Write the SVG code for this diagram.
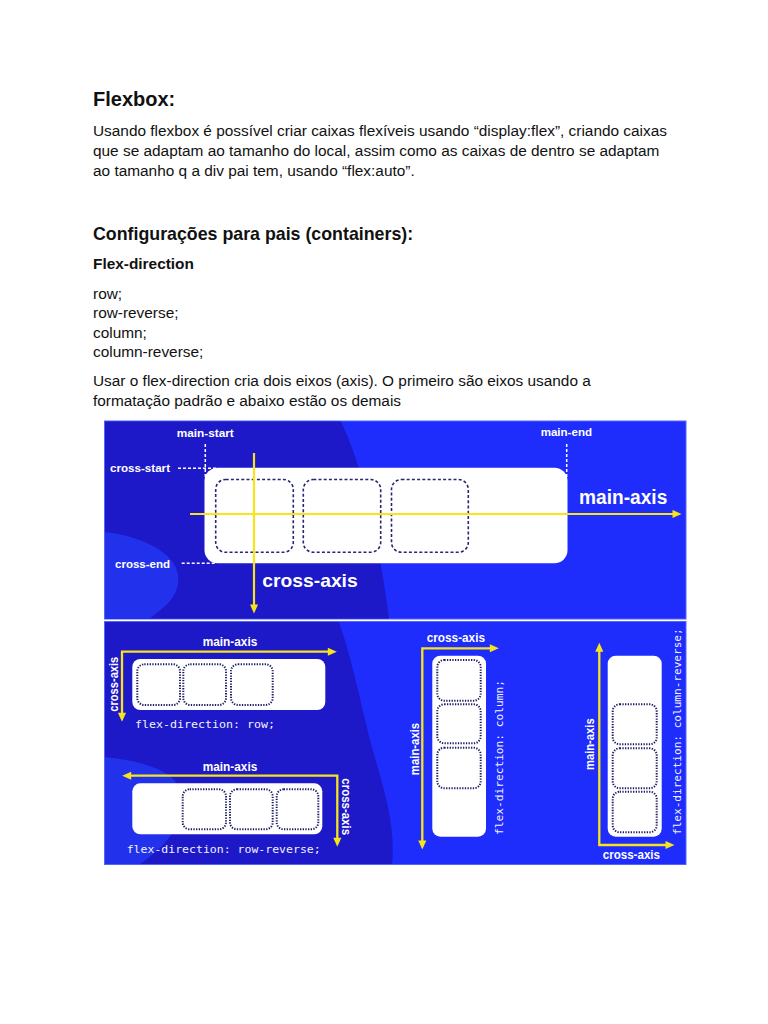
<svg xmlns="http://www.w3.org/2000/svg" width="768" height="1024" viewBox="0 0 768 1024">
<defs>
<style>
.body{font-family:"Liberation Sans",Arial,sans-serif;font-size:15.4px;fill:#111}
.h1{font-family:"Liberation Sans",Arial,sans-serif;font-size:20px;font-weight:bold;fill:#111}
.h2{font-family:"Liberation Sans",Arial,sans-serif;font-size:17.8px;font-weight:bold;fill:#111}
.h3{font-family:"Liberation Sans",Arial,sans-serif;font-size:15.4px;font-weight:bold;fill:#111}
.lbl{font-family:"Liberation Sans",Arial,sans-serif;font-weight:bold;fill:#fff}
.mono{font-family:"DejaVu Sans Mono","Liberation Mono",monospace;font-size:11.3px;fill:#f2f2ff}
.ax{stroke:#f7e41c;stroke-width:2.2;fill:none;marker-end:url(#ah)}
.ax2{stroke:#f7e41c;stroke-width:2.3;fill:none;marker-start:url(#ah);marker-end:url(#ah)}
.wdot{stroke:#fff;stroke-width:1.5;stroke-dasharray:3 2;fill:none}
.box{fill:#fff}
.dbox{fill:none;stroke:#262673;stroke-width:1.6;stroke-dasharray:3 2.2}
.pbox{fill:none;stroke:#1c1c66;stroke-width:2;stroke-dasharray:1.3 1.37}
</style>
<marker id="ah" viewBox="0 0 10 10" refX="5" refY="5" markerWidth="10" markerHeight="9" markerUnits="userSpaceOnUse" orient="auto-start-reverse">
<path d="M0,0.5 L10,5 L0,9.5 z" fill="#f7e41c"/>
</marker>
</defs>
<rect width="768" height="1024" fill="#fff"/>

<g id="text">
<text class="h1" x="93" y="106">Flexbox:</text>
<text class="body" x="93" y="136">Usando flexbox é possível criar caixas flexíveis usando “display:flex”, criando caixas</text>
<text class="body" x="93" y="156">que se adaptam ao tamanho do local, assim como as caixas de dentro se adaptam</text>
<text class="body" x="93" y="176">ao tamanho q a div pai tem, usando “flex:auto”.</text>
<text class="h2" x="93" y="240">Configurações para pais (containers):</text>
<text class="h3" x="93" y="269">Flex-direction</text>
<text class="body" x="93" y="299">row;</text>
<text class="body" x="93" y="318.3">row-reverse;</text>
<text class="body" x="93" y="337.6">column;</text>
<text class="body" x="93" y="356.9">column-reverse;</text>
<text class="body" x="93" y="386">Usar o flex-direction cria dois eixos (axis). O primeiro são eixos usando a</text>
<text class="body" x="93" y="405.5">formatação padrão e abaixo estão os demais</text>
</g>

<g id="top-image">
<rect x="104.5" y="421" width="581.5" height="198" fill="#1e2cfc" stroke="#5566ff" stroke-width="1"/>
<path d="M105,421.5 H341 C352,445 360,470 368,500 C376,535 384,580 389,618.5 H105 Z" fill="#1d18c8"/>
<path d="M105,532 C135,535 175,550 178,575 C181,598 160,610 150,618.5 H105 Z" fill="#2232ec"/>
</g>

<g id="top-guides">
<line class="wdot" x1="205.3" y1="444" x2="205.3" y2="477"/>
<line class="wdot" x1="178" y1="468.3" x2="217" y2="468.3"/>
<line class="wdot" x1="181.7" y1="563.3" x2="215" y2="563.3"/>
<line class="wdot" x1="566.7" y1="444" x2="566.7" y2="477"/>
</g>

<g id="top-container">
<rect class="box" x="204.5" y="467.7" width="363" height="95.6" rx="13"/>
<rect class="dbox" x="215.7" y="479.5" width="77.6" height="72.8" rx="10"/>
<rect class="dbox" x="303.3" y="479.5" width="77.4" height="72.8" rx="10"/>
<rect class="dbox" x="391.5" y="479.5" width="76.8" height="72.8" rx="10"/>
</g>

<g id="top-labels">
<text class="lbl" x="205.3" y="436.5" font-size="11.5" text-anchor="middle" textLength="57" lengthAdjust="spacingAndGlyphs">main-start</text>
<text class="lbl" x="110" y="472" font-size="11" textLength="60" lengthAdjust="spacingAndGlyphs">cross-start</text>
<text class="lbl" x="115" y="567.5" font-size="11" textLength="55" lengthAdjust="spacingAndGlyphs">cross-end</text>
<text class="lbl" x="540.7" y="436" font-size="11.5" textLength="51.3" lengthAdjust="spacingAndGlyphs">main-end</text>
<text class="lbl" x="579" y="504.3" font-size="19.5" textLength="88.3" lengthAdjust="spacingAndGlyphs">main-axis</text>
<text class="lbl" x="262.3" y="586.7" font-size="19" textLength="95.4" lengthAdjust="spacingAndGlyphs">cross-axis</text>
</g>

<g id="top-axes">
<line class="ax" x1="190" y1="514" x2="677" y2="514"/>
<line class="ax" x1="254" y1="453" x2="254" y2="609"/>
</g>

<g id="bottom-image">
<rect x="104.5" y="621.5" width="581.5" height="243" fill="#1e2cfc" stroke="#5566ff" stroke-width="1"/>
<path d="M105,622 H339 C352,660 360,700 370,740 C382,785 396,820 392,864 H105 Z" fill="#1d18c8"/>
<path d="M105,757 C135,760 168,768 178,785 C192,810 175,840 140,864 H105 Z" fill="#2232ec"/>
</g>

<g id="row">
<rect class="box" x="132.3" y="659" width="193" height="51" rx="8"/>
<rect class="pbox" x="137.3" y="664.3" width="42.7" height="40.7" rx="7"/>
<rect class="pbox" x="183.3" y="664.3" width="42.7" height="40.7" rx="7"/>
<rect class="pbox" x="231" y="664.3" width="41.7" height="40.7" rx="7"/>
<text class="lbl" x="202.7" y="645.7" font-size="12" textLength="54.6" lengthAdjust="spacingAndGlyphs">main-axis</text>
<text class="lbl" font-size="12" text-anchor="middle" textLength="55" lengthAdjust="spacingAndGlyphs" transform="translate(117.5,684.2) rotate(-90)">cross-axis</text>
<text class="mono" x="135" y="727.5" textLength="140" lengthAdjust="spacingAndGlyphs">flex-direction: row;</text>
</g>

<g id="row-reverse">
<rect class="box" x="132.3" y="783.3" width="190" height="51" rx="8"/>
<rect class="pbox" x="182.7" y="789.3" width="43.3" height="40" rx="7"/>
<rect class="pbox" x="230" y="789.3" width="42.7" height="40" rx="7"/>
<rect class="pbox" x="276.7" y="789.3" width="41.6" height="40" rx="7"/>
<text class="lbl" x="202.7" y="770.7" font-size="12" textLength="54.6" lengthAdjust="spacingAndGlyphs">main-axis</text>
<text class="lbl" font-size="12" text-anchor="middle" textLength="56.7" lengthAdjust="spacingAndGlyphs" transform="translate(341.5,806.7) rotate(90)">cross-axis</text>
<text class="mono" x="126.7" y="852.7" textLength="194" lengthAdjust="spacingAndGlyphs">flex-direction: row-reverse;</text>
</g>

<g id="column">
<rect class="box" x="432.3" y="655.7" width="53.7" height="181" rx="8"/>
<rect class="pbox" x="437.3" y="660" width="43.4" height="40.7" rx="7"/>
<rect class="pbox" x="437.3" y="704.3" width="43.4" height="39" rx="7"/>
<rect class="pbox" x="437.3" y="747.7" width="43.4" height="40.6" rx="7"/>
<text class="lbl" x="426.7" y="642.3" font-size="12" textLength="58.3" lengthAdjust="spacingAndGlyphs">cross-axis</text>
<text class="lbl" font-size="12" text-anchor="middle" textLength="52.3" lengthAdjust="spacingAndGlyphs" transform="translate(418.5,749) rotate(-90)">main-axis</text>
<text class="mono" textLength="155" lengthAdjust="spacingAndGlyphs" transform="translate(502.5,835) rotate(-90)">flex-direction: column;</text>
</g>

<g id="column-reverse">
<rect class="box" x="607.7" y="655.7" width="54" height="181" rx="8"/>
<rect class="pbox" x="612.7" y="704.3" width="44" height="40" rx="7"/>
<rect class="pbox" x="612.7" y="748.3" width="44" height="40" rx="7"/>
<rect class="pbox" x="612.7" y="791.7" width="44" height="40.6" rx="7"/>
<text class="lbl" x="602.7" y="859" font-size="12" textLength="57.3" lengthAdjust="spacingAndGlyphs">cross-axis</text>
<text class="lbl" font-size="12" text-anchor="middle" textLength="51.7" lengthAdjust="spacingAndGlyphs" transform="translate(593.5,744.2) rotate(-90)">main-axis</text>
<text class="mono" textLength="206.7" lengthAdjust="spacingAndGlyphs" transform="translate(681,835) rotate(-90)">flex-direction: column-reverse;</text>
</g>

<g id="connectors">
<path class="ax2" d="M122,717.3 V651.7 H332.3"/>
<path class="ax2" d="M126.7,775.7 H337.3 V842.3"/>
<path class="ax2" d="M494.3,648.3 H422.3 V845"/>
<path class="ax2" d="M599.3,647.3 V845 H670"/>
</g>
</svg>
